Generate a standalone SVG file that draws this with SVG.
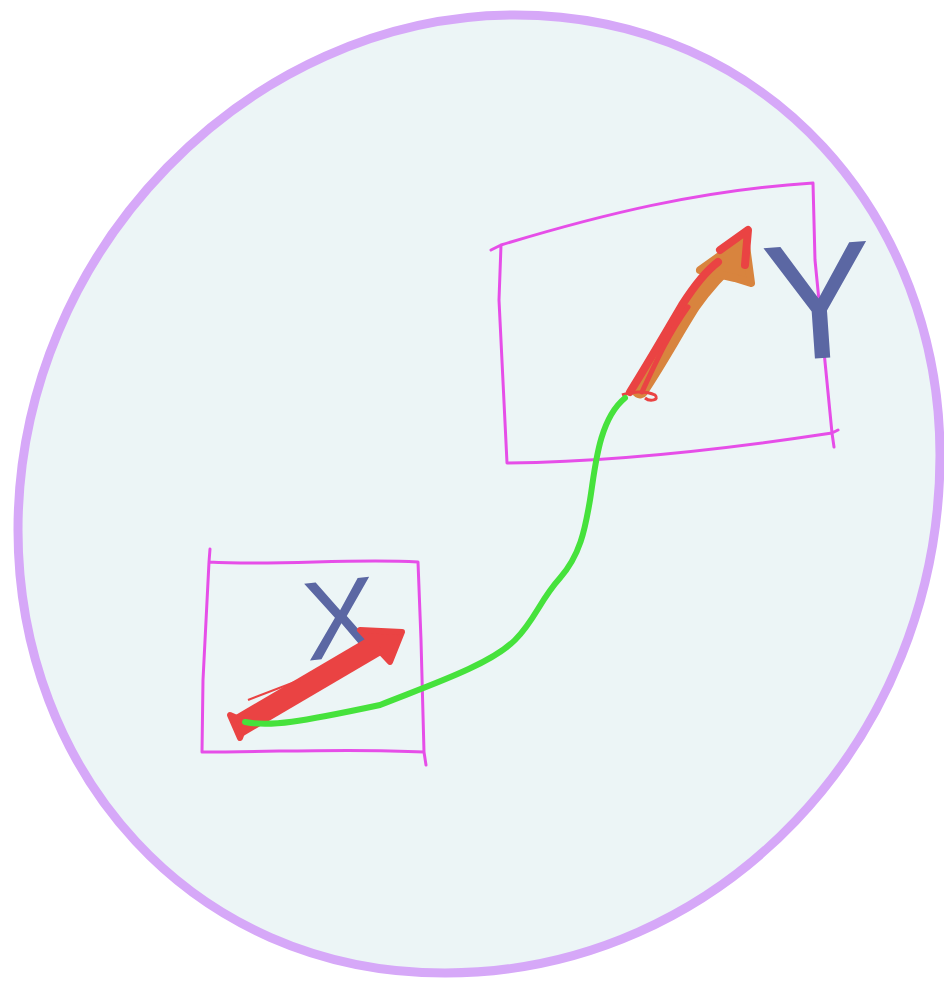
<svg xmlns="http://www.w3.org/2000/svg" width="944" height="982" viewBox="0 0 944 982">
<style>
.box{fill:none;stroke:#e64ee8;stroke-width:3;stroke-linecap:round;stroke-linejoin:round}
.lbl{font-family:"Liberation Sans",Arial,sans-serif;fill:#5b67a3}
</style>
<rect width="944" height="982" fill="#ffffff"/>
<g id="scene">
<path d="M515,15 C770,15 940,220 940,455 C940,740 720,973 445,973 C190,973 18,770 18,530 C18,250 250,15 515,15 Z" fill="#ecf5f6" stroke="#d6a8f8" stroke-width="9"/>
</g>
<g id="nodeX">
<path class="box" d="M210,549 L209,562 C280,566 350,558 418,562 L421,640 L424,752 L426,765 M424,752 C350,748 280,752 202,752 L203,680 L209,562"/>
<text class="lbl" x="340" y="657" font-size="112" text-anchor="middle" transform="rotate(-6 340 612)">X</text>
</g>
<g id="nodeY">
<path class="box" d="M491,250 L501,245 C600,215 700,190 813,183 L815,260 L832,433 L834,447 M838,430 L832,433 C720,450 600,462 507,463 L499,300 L501,245"/>
<text class="lbl" x="818" y="358" font-size="165" text-anchor="middle" transform="rotate(-4 818 290)">Y</text>
</g>
<g id="connectors">
<path d="M237,727 L380,643" stroke="#ea4343" stroke-width="22" stroke-linecap="butt" fill="none"/>
<path d="M230,715 L240,738 L246,722 Z" fill="#ea4343" stroke="#ea4343" stroke-width="6" stroke-linejoin="round"/>
<path d="M360,630 L402,632 L390,662 Z" fill="#ea4343" stroke="#ea4343" stroke-width="6" stroke-linejoin="round"/>
<path d="M248,700 L300,680" stroke="#ea4343" stroke-width="2" fill="none"/>
<path d="M640,390 C660,360 676,330 692,305 C708,282 722,268 740,252" stroke="#d8843e" stroke-width="17" stroke-linecap="round" fill="none"/>
<path d="M700,270 L745,238 L751,283 L735,278 Z" fill="#d8843e" stroke="#d8843e" stroke-width="8" stroke-linejoin="round"/>
<path d="M630,392 C650,360 666,332 682,305 C698,280 710,268 718,262" stroke="#ea4343" stroke-width="8" stroke-linecap="round" fill="none"/>
<path d="M642,392 C656,362 668,335 688,307" stroke="#ea4343" stroke-width="5" stroke-linecap="round" fill="none"/>
<path d="M720,250 L748,230 L745,265" stroke="#ea4343" stroke-width="8" stroke-linecap="round" stroke-linejoin="round" fill="none"/>
<path d="M622,395 C630,392 645,390 655,395 C660,400 650,402 645,398" stroke="#ea4343" stroke-width="3" fill="none"/>
<path d="M245,722 C270,727 300,722 380,705 C430,685 490,665 515,640 C535,620 540,600 560,578 C580,555 585,530 590,500 C595,470 598,420 625,398" stroke="#46e23c" stroke-width="6" stroke-linecap="round" fill="none"/>
</g>
</svg>
